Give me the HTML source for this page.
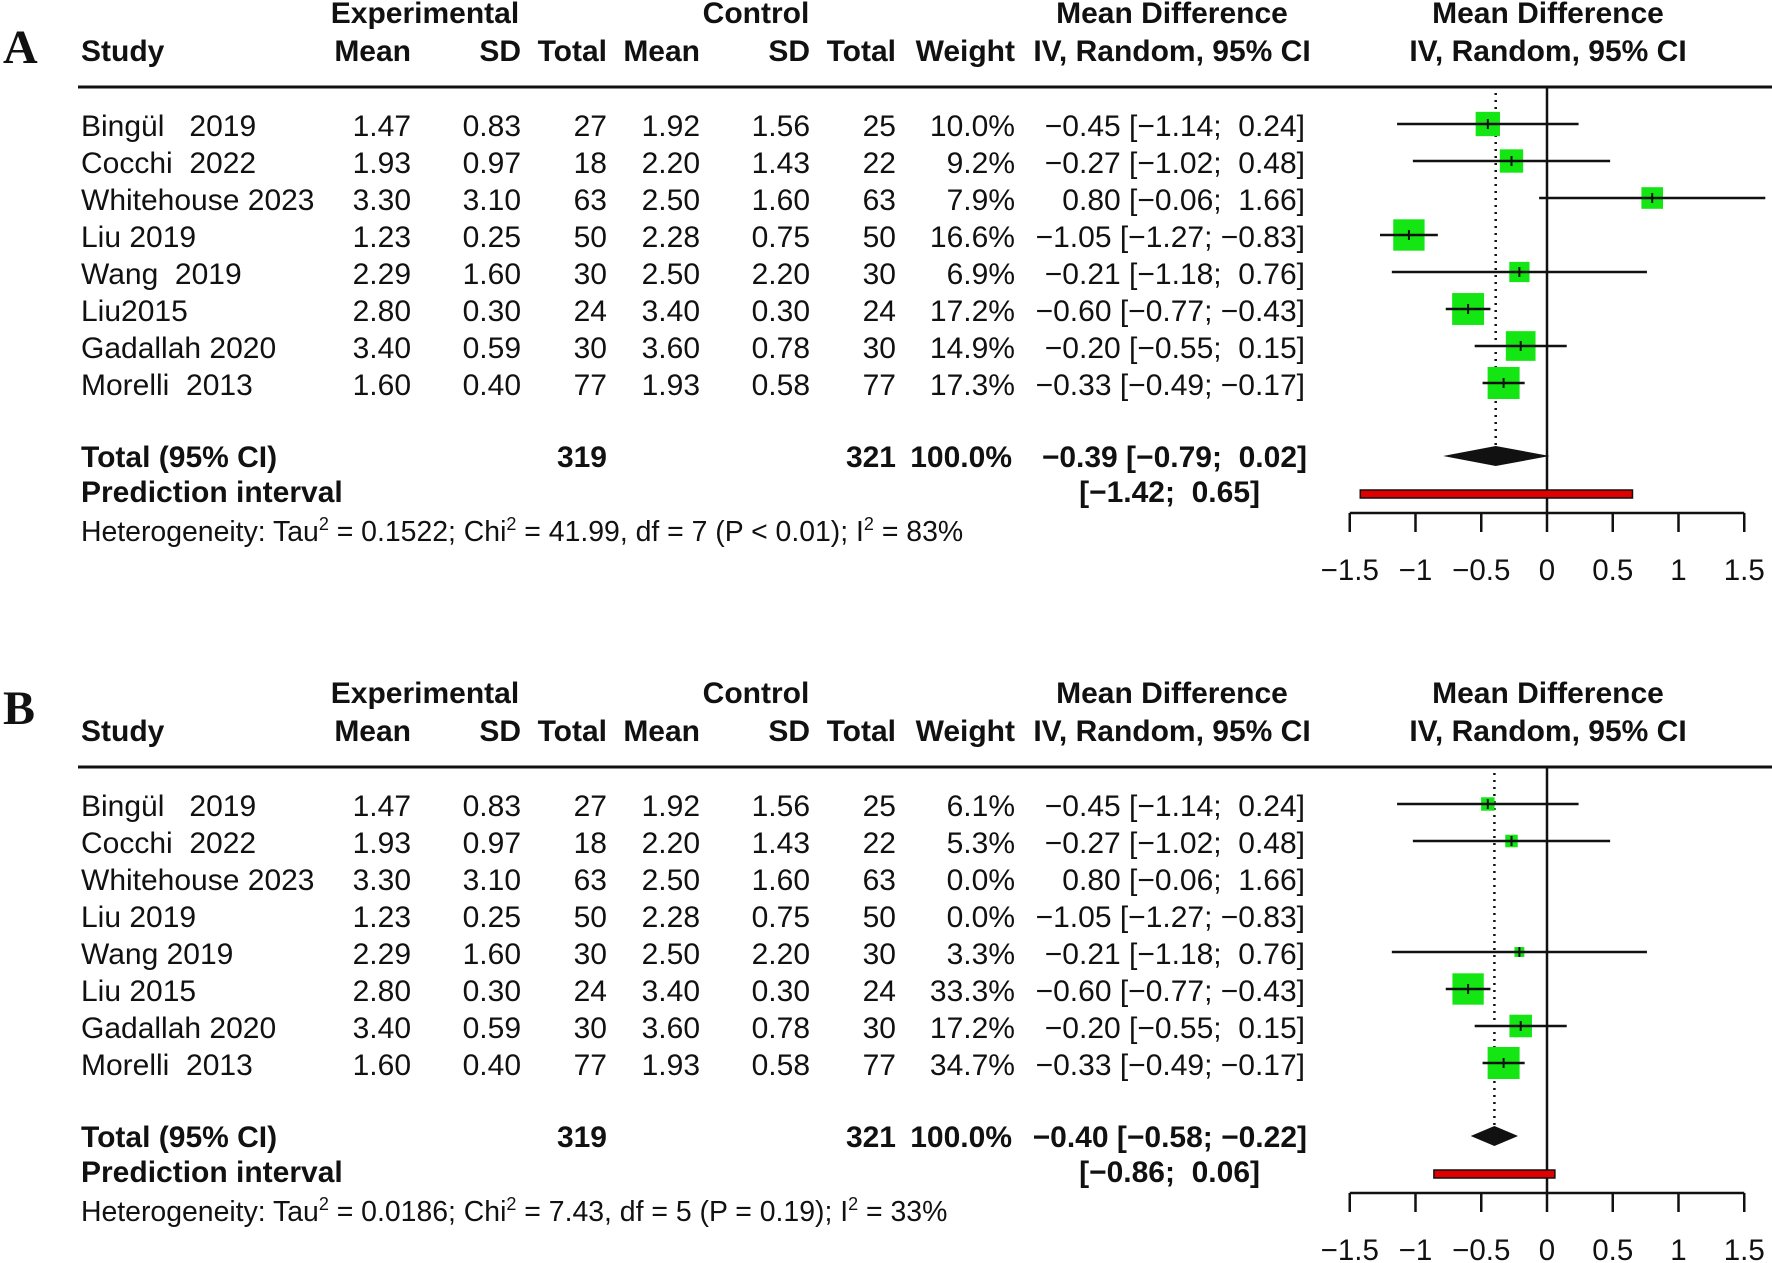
<!DOCTYPE html>
<html><head><meta charset="utf-8"><style>
html,body{margin:0;padding:0;background:#fff;}
svg{display:block;}
text{font-family:"Liberation Sans",sans-serif;fill:#111;white-space:pre;}
.b{font-weight:bold;}
</style></head><body>
<svg id="chart" width="1772" height="1263" viewBox="0 0 1772 1263" xmlns="http://www.w3.org/2000/svg"></svg>
<script>
const studiesA = ["Bingül   2019","Cocchi  2022","Whitehouse 2023","Liu 2019","Wang  2019","Liu2015","Gadallah 2020","Morelli  2013"];
const studiesB = ["Bingül   2019","Cocchi  2022","Whitehouse 2023","Liu 2019","Wang 2019","Liu 2015","Gadallah 2020","Morelli  2013"];
const expMean = [1.47,1.93,3.30,1.23,2.29,2.80,3.40,1.60];
const expSD = [0.83,0.97,3.10,0.25,1.60,0.30,0.59,0.40];
const expN = [27,18,63,50,30,24,30,77];
const ctlMean = [1.92,2.20,2.50,2.28,2.50,3.40,3.60,1.93];
const ctlSD = [1.56,1.43,1.60,0.75,2.20,0.30,0.78,0.58];
const ctlN = [25,22,63,50,30,24,30,77];
const md = [-0.45,-0.27,0.80,-1.05,-0.21,-0.60,-0.20,-0.33];
const ciLo = [-1.14,-1.02,-0.06,-1.27,-1.18,-0.77,-0.55,-0.49];
const ciHi = [0.24,0.48,1.66,-0.83,0.76,-0.43,0.15,-0.17];
const weightA = [10.0,9.2,7.9,16.6,6.9,17.2,14.9,17.3];
const weightB = [6.1,5.3,0.0,0.0,3.3,33.3,17.2,34.7];
const summaryA = [-0.39,-0.79,0.02];
const summaryB = [-0.40,-0.58,-0.22];
const predA = [-1.42,0.65];
const predB = [-0.86,0.06];
const hetA = ["0.1522","41.99","7","P < 0.01","83%"];
const hetB = ["0.0186","7.43","5","P = 0.19","33%"];
const ticks = [-1.5,-1,-0.5,0,0.5,1,1.5];
const tickLabels = ["\u22121.5","\u22121","\u22120.5","0","0.5","1","1.5"];

const NS="http://www.w3.org/2000/svg";
const svg=document.getElementById('chart');
const xs=v=>1547+131.5*v;
const fci=v=>(v<0?"\u2212":" ")+Math.abs(v).toFixed(2);
function el(tag,attrs,parent){const e=document.createElementNS(NS,tag);for(const k in attrs)e.setAttribute(k,attrs[k]);(parent||svg).appendChild(e);return e;}
function txt(s,x,y,anchor,bold,size,parent){const t=el('text',{x:x,y:y,'text-anchor':anchor||'start','font-size':size||30},parent);if(bold)t.setAttribute('class','b');t.textContent=s;return t;}

function panel(label,off,studies,weights,summ,pred,het){
  const g=el('g',{});
  
  
  const L=el('text',{x:3,y:63+(label==='B'?661:0),'font-size':48,style:'font-family:"Liberation Serif",serif;font-weight:bold'},g);
  L.textContent=label;
  
  
  const h1=23+off,h2=61+off;
  let t;
  t=txt("Experimental",425,h1,'middle',true,30,g);
  
  t=txt("Control",756,h1,'middle',true,30,g);
  
  t=txt("Mean Difference",1172,h1,'middle',true,30,g);
  
  t=txt("Mean Difference",1548,h1,'middle',true,30,g);
  
  t=txt("Study",81,h2,'start',true,30,g);
  
  const hcols=[["Mean",411],["SD",521],["Total",607],["Mean",700],["SD",810],["Total",896],["Weight",1015]];
  hcols.forEach(c=>{const tt=txt(c[0],c[1],h2,'end',true,30,g);});
  t=txt("IV, Random, 95% CI",1172,h2,'middle',true,30,g);
  
  t=txt("IV, Random, 95% CI",1548,h2,'middle',true,30,g);
  
  const hl=el('line',{x1:78,x2:1772,y1:87+off,y2:87+off,stroke:'#111','stroke-width':3},g);
  
  const zl=el('line',{x1:xs(0),x2:xs(0),y1:87+off,y2:513+off,stroke:'#111','stroke-width':2.5},g);
  
  const dl=el('line',{x1:xs(summ[0]),x2:xs(summ[0]),y1:93+off,y2:448+off,stroke:'#111','stroke-width':2.5,'stroke-dasharray':'2 5'},g);
  
  const wmax=Math.max(...weights);
  studies.forEach((s,i)=>{
    const yb=136+37*i+off, yc=yb-12;
    const r=el('g',{},g);
    
    txt(s,81,yb,'start',false,30,r);
    txt(expMean[i].toFixed(2),411,yb,'end',false,30,r);
    txt(expSD[i].toFixed(2),521,yb,'end',false,30,r);
    txt(String(expN[i]),607,yb,'end',false,30,r);
    txt(ctlMean[i].toFixed(2),700,yb,'end',false,30,r);
    txt(ctlSD[i].toFixed(2),810,yb,'end',false,30,r);
    txt(String(ctlN[i]),896,yb,'end',false,30,r);
    txt(weights[i].toFixed(1)+"%",1015,yb,'end',false,30,r);
    txt(fci(md[i])+" ["+fci(ciLo[i]).replace(/^ /,'')+";"+(ciHi[i]<0?" ":"  ")+fci(ciHi[i]).trim()+"]",1305,yb,'end',false,30,r);
    if(weights[i]>0){
      const x1=Math.max(xs(ciLo[i]),0), x2=Math.min(xs(ciHi[i]),1772);
      const side=32*Math.sqrt(weights[i]/wmax);
      const bx=el('rect',{x:xs(md[i])-side/2,y:yc-side/2,width:side,height:side,fill:'#14e614'},g);
      
      const ci=el('line',{x1:x1,x2:x2,y1:yc,y2:yc,stroke:'#111','stroke-width':2.5},g);
      
      const tk=el('line',{x1:xs(md[i]),x2:xs(md[i]),y1:yc-5,y2:yc+5,stroke:'#111','stroke-width':2},g);
      
    }
  });
  const yt=467+off;
  t=txt("Total (95% CI)",81,yt,'start',true,30,g);
  
  txt("319",607,yt,'end',true,30,g);
  txt("321",896,yt,'end',true,30,g);
  txt("100.0%",1012,yt,'end',true,30,g);
  t=txt(fci(summ[0])+" ["+fci(summ[1]).trim()+";"+(summ[2]<0?" ":"  ")+fci(summ[2]).trim()+"]",1307,yt,'end',true,30,g);
  
  const dc=yt-11;
  const dm=el('polygon',{points:`${xs(summ[1])},${dc} ${xs(summ[0])},${dc-10} ${xs(summ[2])},${dc} ${xs(summ[0])},${dc+10}`,fill:'#111'},g);
  
  const yp=502+off;
  t=txt("Prediction interval",81,yp,'start',true,30,g);
  
  t=txt("["+fci(pred[0]).trim()+";"+(pred[1]<0?" ":"  ")+fci(pred[1]).trim()+"]",1260,yp,'end',true,30,g);
  
  const pb=el('rect',{x:xs(pred[0]),y:494+off-4,width:xs(pred[1])-xs(pred[0]),height:8,fill:'#e00000',stroke:'#111','stroke-width':1.5},g);
  
  const ht=el('text',{x:81,y:541+off,'font-size':28.4},g);
  
  const parts=[["Heterogeneity: Tau",0],["2",1],[" = "+het[0]+"; Chi",0],["2",1],[" = "+het[1]+", df = "+het[2]+" ("+het[3]+"); I",0],["2",1],[" = "+het[4],0]];
  let prevSup=false;
  parts.forEach(p=>{
    const ts=el('tspan',{},ht);
    ts.textContent=p[0];
    if(p[1]){ts.setAttribute('dy',-11);ts.setAttribute('font-size',18);prevSup=true;}
    else{ts.setAttribute('dy',prevSup?11:0);prevSup=false;}
  });
  const ax=el('g',{},g);
  
  el('line',{x1:xs(ticks[0]),x2:xs(ticks[ticks.length-1]),y1:513+off,y2:513+off,stroke:'#111','stroke-width':2.5},ax);
  ticks.forEach((v,i)=>{
    el('line',{x1:xs(v),x2:xs(v),y1:513+off,y2:532+off,stroke:'#111','stroke-width':2.5},ax);
    const tl=txt(tickLabels[i],xs(v),580+off,'middle',false,29.5,ax);
    
  });
}
panel('A',0,studiesA,weightA,summaryA,predA,hetA);
panel('B',680,studiesB,weightB,summaryB,predB,hetB);
</script>
</body></html>
